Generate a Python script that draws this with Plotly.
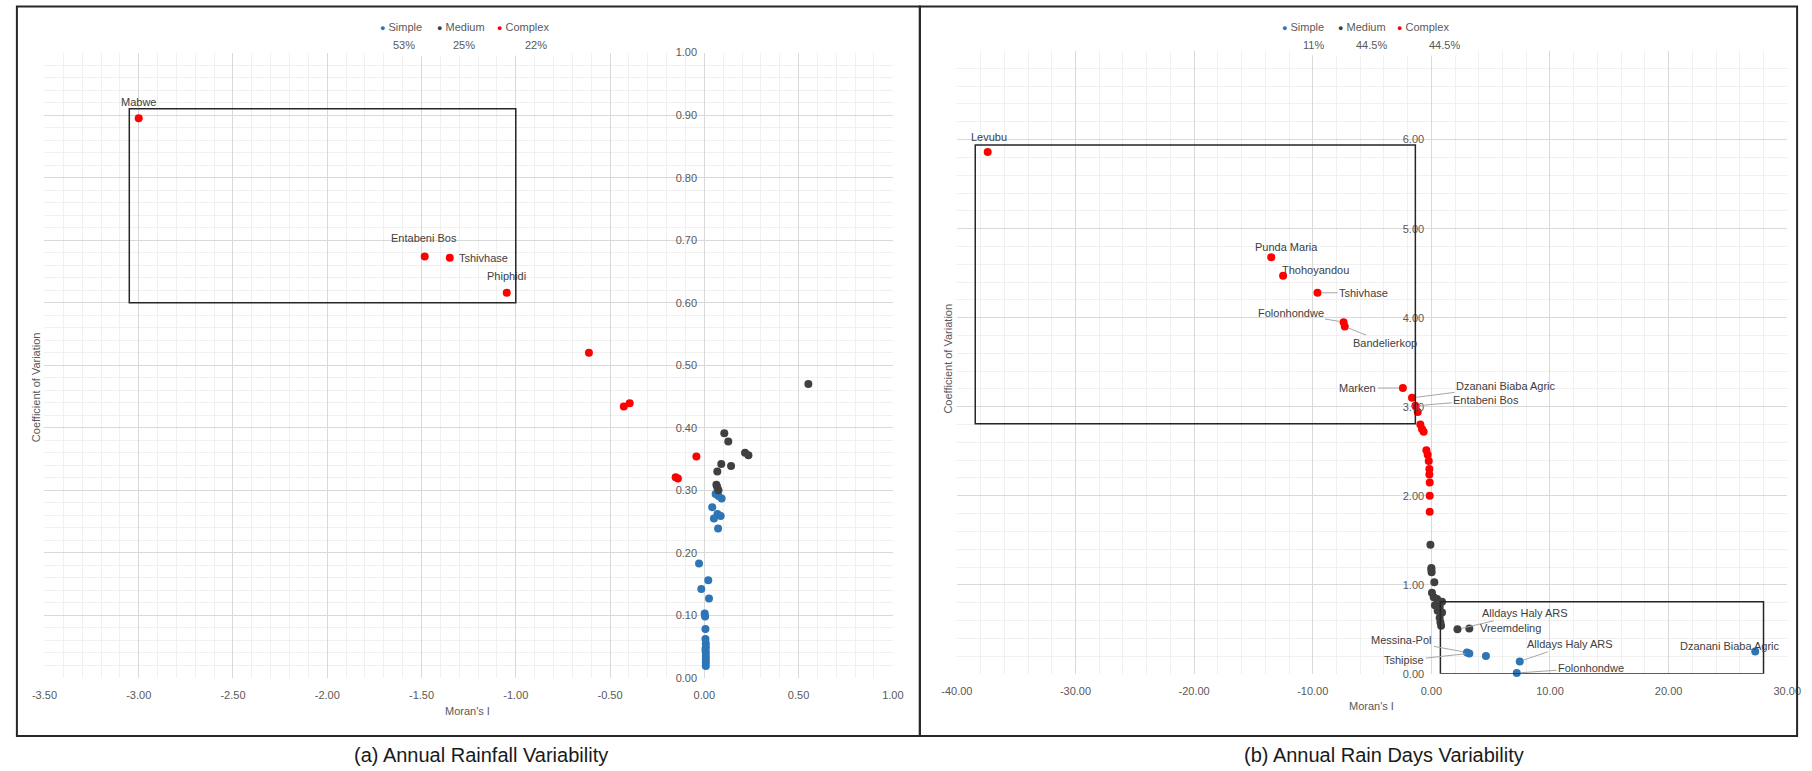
import plotly.graph_objects as go

# ---------------- data: (a) Annual Rainfall Variability ----------------
a_simple_x = [0.060, 0.092, 0.075, 0.042, 0.051, 0.087, 0.070, 0.073, -0.028, 0.021, -0.016, 0.025,
              0.002, 0.004, 0.006, 0.006, 0.008, 0.008, 0.008, 0.008, 0.008, 0.008, 0.006, 0.008]
a_simple_y = [0.294, 0.287, 0.291, 0.273, 0.255, 0.259, 0.262, 0.239, 0.183, 0.156, 0.142, 0.127,
              0.103, 0.098, 0.078, 0.062, 0.049, 0.041, 0.035, 0.030, 0.025, 0.019, 0.045, 0.055]
a_medium_x = [0.552, 0.106, 0.127, 0.216, 0.234, 0.090, 0.142, 0.069, 0.064, 0.069, 0.075]
a_medium_y = [0.470, 0.391, 0.378, 0.360, 0.356, 0.342, 0.339, 0.330, 0.309, 0.305, 0.300]
a_complex_x = [-3.00, -1.483, -1.35, -1.048, -0.612, -0.427, -0.396, -0.042, -0.152, -0.140]
a_complex_y = [0.895, 0.674, 0.672, 0.616, 0.520, 0.434, 0.439, 0.354, 0.321, 0.319]
a_complex_names = ["Mabwe", "Entabeni Bos", "Tshivhase", "Phiphidi", "", "", "", "", "", ""]
a_pct = ["53%", "25%", "22%"]
a_xticks = [-3.5, -3.0, -2.5, -2.0, -1.5, -1.0, -0.5, 0.0, 0.5, 1.0]
a_xticklabels = ["-3.50", "-3.00", "-2.50", "-2.00", "-1.50", "-1.00", "-0.50", "0.00", "0.50", "1.00"]
a_yticks = [0.0, 0.1, 0.2, 0.3, 0.4, 0.5, 0.6, 0.7, 0.8, 0.9, 1.0]
a_yticklabels = ["0.00", "0.10", "0.20", "0.30", "0.40", "0.50", "0.60", "0.70", "0.80", "0.90", "1.00"]
a_box = [-3.05, -1.0, 0.60, 0.91]  # x0, x1, y0, y1 of highlighted region

# ---------------- data: (b) Annual Rain Days Variability ----------------
b_simple_x = [3.0, 3.2, 4.6, 7.45, 7.2, 27.3]
b_simple_y = [0.24, 0.23, 0.20, 0.14, 0.01, 0.25]
b_simple_names = ["Messina-Pol", "Tshipise", "", "Alldays Haly ARS", "Folonhondwe", "Dzanani Biaba Agric"]
b_medium_x = [-0.08, 0.00, 0.00, 0.02, 0.25, 0.05, 0.20, 0.48, 0.90, 0.30, 0.70, 0.53, 0.90, 0.70,
              0.76, 0.82, 2.2, 3.2]
b_medium_y = [1.45, 1.19, 1.17, 1.14, 1.03, 0.91, 0.86, 0.84, 0.81, 0.77, 0.75, 0.71, 0.69, 0.63,
              0.58, 0.54, 0.50, 0.51]
b_medium_names = [""] * 16 + ["Alldays Haly ARS", "Vreemdeling"]
b_complex_x = [-37.4, -13.5, -12.5, -9.6, -7.4, -7.3, -2.4, -1.63, -1.35, -1.15, -0.93, -0.79, -0.65,
               -0.42, -0.31, -0.22, -0.17, -0.17, -0.14, -0.14, -0.14]
b_complex_y = [5.86, 4.68, 4.47, 4.28, 3.95, 3.90, 3.21, 3.10, 3.01, 2.94, 2.80, 2.75, 2.72,
               2.51, 2.46, 2.39, 2.30, 2.24, 2.15, 2.00, 1.82]
b_complex_names = ["Levubu", "Punda Maria", "Thohoyandou", "Tshivhase", "Folonhondwe", "Bandelierkop",
                   "Marken", "Dzanani Biaba Agric", "Entabeni Bos"] + [""] * 12
b_pct = ["11%", "44.5%", "44.5%"]
b_xticks = [-40, -30, -20, -10, 0, 10, 20, 30]
b_xticklabels = ["-40.00", "-30.00", "-20.00", "-10.00", "0.00", "10.00", "20.00", "30.00"]
b_yticks = [0, 1, 2, 3, 4, 5, 6, 7]
b_yticklabels = ["0.00", "1.00", "2.00", "3.00", "4.00", "5.00", "6.00", ""]
b_boxes = [[-38.45, -1.35, 2.81, 5.94], [0.76, 28.0, 0.0, 0.81]]

categories = ["Simple", "Medium", "Complex"]

# ---------------- style ----------------
W, H = 1812, 771
C_SIMPLE, C_MEDIUM, C_COMPLEX = "#2E75B6", "#404040", "#FF0000"
COLORS = [C_SIMPLE, C_MEDIUM, C_COMPLEX]
GRID, MINOR = "#D9D9D9", "#F0F0F0"
TXT = "#595959"
FONT = "Liberation Sans, Arial, sans-serif"

# layout positions are given in target-picture pixels and mapped to paper fractions
SX, CX, SY, CY = 0.983, 915.0, 0.984, 340.0

def px(x):
    v = (CX + (x - CX) / SX) / W
    return min(max(v, 0.0005), 0.9995)

def py(y):
    v = 1 - (CY + (y - CY) / SY) / H
    return min(max(v, 0.0005), 0.9995)

A_XDOM = [px(44), px(892)]
A_YDOM = [py(677), py(52)]
B_XDOM = [px(956), px(1786)]
B_YDOM = [py(673), py(50)]
A_XR = [-3.5, 1.0]
B_XR = [-40, 30]

def zero_pos(dom, rng):
    return dom[0] + (0 - rng[0]) / (rng[1] - rng[0]) * (dom[1] - dom[0])

fig = go.Figure()

series = [
    ("x", "y", a_simple_x, a_simple_y, 0, a_pct),
    ("x", "y", a_medium_x, a_medium_y, 1, a_pct),
    ("x", "y", a_complex_x, a_complex_y, 2, a_pct),
    ("x2", "y2", b_simple_x, b_simple_y, 0, b_pct),
    ("x2", "y2", b_medium_x, b_medium_y, 1, b_pct),
    ("x2", "y2", b_complex_x, b_complex_y, 2, b_pct),
]
for xa, ya, xs, ys, k, pct in series:
    fig.add_trace(go.Scatter(
        x=xs, y=ys, mode="markers", xaxis=xa, yaxis=ya, showlegend=False,
        name=f"{categories[k]} ({pct[k]})",
        marker=dict(color=COLORS[k], size=8, line=dict(width=0)),
        cliponaxis=False,
    ))

# ---------------- point labels ----------------
# offsets: (arrow?, dx, dy) in pixels
a_offsets = {"Mabwe": (False, 0, 16), "Entabeni Bos": (False, -1, 18),
             "Tshivhase": (False, 34, 0), "Phiphidi": (False, 0, 17)}
b_offsets_c = {"Levubu": (False, 1, 15), "Punda Maria": (False, 15, 10),
               "Thohoyandou": (False, 32, 6), "Tshivhase": (True, 46, 0),
               "Folonhondwe": (True, -53, -9), "Bandelierkop": (True, 40, 16),
               "Marken": (True, -45, 0), "Dzanani Biaba Agric": (True, 94, -12),
               "Entabeni Bos": (True, 71, -6)}
b_offsets_m = {"Alldays Haly ARS": (True, 68, -16), "Vreemdeling": (False, 41, 0)}
b_offsets_s = {"Messina-Pol": (True, -65, -12), "Tshipise": (True, -65, 7),
               "Alldays Haly ARS": (True, 50, -17), "Folonhondwe": (True, 74, -5),
               "Dzanani Biaba Agric": (False, -25, 6)}

annotations = []

def add_labels(xs, ys, names, offs, xr, yr):
    for x, y, n in zip(xs, ys, names):
        if not n:
            continue
        arrow, dx, dy = offs[n]
        base = dict(x=x, y=y, xref=xr, yref=yr, text=n,
                    font=dict(family=FONT, size=11, color="#404040"))
        if arrow:
            base.update(showarrow=True, ax=dx, ay=dy, arrowhead=0, arrowwidth=1,
                        arrowcolor="#A6A6A6", standoff=4)
        else:
            base.update(showarrow=False, xshift=dx, yshift=dy)
        annotations.append(base)

add_labels(a_complex_x, a_complex_y, a_complex_names, a_offsets, "x", "y")
add_labels(b_complex_x, b_complex_y, b_complex_names, b_offsets_c, "x2", "y2")
add_labels(b_medium_x, b_medium_y, b_medium_names, b_offsets_m, "x2", "y2")
add_labels(b_simple_x, b_simple_y, b_simple_names, b_offsets_s, "x2", "y2")

# axis titles and captions
for txt, x, y, ang, size, col in [
    ("Coefficient of Variation", 35, 386, -90, 11, TXT),
    ("Coefficient of Variation", 947, 358, -90, 11, TXT),
    ("Moran's I", 467, 710, 0, 11, TXT),
    ("Moran's I", 1370, 705, 0, 11, TXT),
    ("(a) Annual Rainfall Variability", 480, 754, 0, 20, "#1A1A1A"),
    ("(b) Annual Rain Days Variability", 1383, 754, 0, 20, "#1A1A1A"),
]:
    annotations.append(dict(text=txt, x=px(x), y=py(y), xref="paper", yref="paper",
                            showarrow=False, textangle=ang, xanchor="center", yanchor="middle",
                            font=dict(family=FONT, size=size, color=col)))

shapes = []

# ---------------- legends (symbol + name row, percentage row) ----------------
legend_layout = [
    ((384, 562), [380, 437, 497], [403, 463, 535], a_pct),
    ((1290, 1476), [1282, 1338, 1397], [1312, 1370, 1443], b_pct),
]
for (bx0, bx1), sym_x, pct_x, pcts in legend_layout:
    shapes.append(dict(type="rect", xref="paper", yref="paper", x0=px(bx0), x1=px(bx1),
                       y0=py(55), y1=py(16), fillcolor="white", line=dict(width=0),
                       layer="above"))
    for k in range(3):
        annotations.append(dict(
            text=f"<span style='color:{COLORS[k]};font-size:9px'>\u25cf</span> {categories[k]}",
            x=px(sym_x[k] - 3), y=py(26), xref="paper", yref="paper", showarrow=False,
            xanchor="left", yanchor="middle", font=dict(family=FONT, size=11, color=TXT)))
        annotations.append(dict(
            text=pcts[k], x=px(pct_x[k]), y=py(44), xref="paper", yref="paper",
            showarrow=False, xanchor="center", yanchor="middle",
            font=dict(family=FONT, size=11, color=TXT)))

x0, x1, y0, y1 = a_box
shapes.append(dict(type="rect", xref="x", yref="y", x0=x0, x1=x1, y0=y0, y1=y1,
                   line=dict(color="#262626", width=1.5)))
for x0, x1, y0, y1 in b_boxes:
    shapes.append(dict(type="rect", xref="x2", yref="y2", x0=x0, x1=x1, y0=y0, y1=y1,
                       line=dict(color="#262626", width=1.5)))
# panel frames
for fx0, fx1 in [(10, 919), (919, 1810)]:
    shapes.append(dict(type="rect", xref="paper", yref="paper", x0=px(fx0), x1=px(fx1),
                       y0=py(735), y1=py(6), line=dict(color="#262626", width=2)))

tickfont = dict(family=FONT, size=11, color=TXT)

def xaxis(dom, rng, tv, tt, anchor, minor_dt):
    return dict(domain=dom, range=rng, anchor=anchor, tickmode="array", tickvals=tv, ticktext=tt,
                showgrid=True, gridcolor=GRID, gridwidth=1, zeroline=False, showline=False,
                ticks="outside", ticklen=7, tickcolor="rgba(0,0,0,0)", tickfont=tickfont,
                minor=dict(dtick=minor_dt, tick0=rng[0], showgrid=True, gridcolor=MINOR, ticks=""),
                fixedrange=True)

def yaxis(dom, rng, tv, tt, pos, minor_dt):
    return dict(domain=dom, range=rng, anchor="free", position=pos, tickmode="array", tickvals=tv,
                ticktext=tt, showgrid=True, gridcolor=GRID, gridwidth=1, zeroline=False,
                showline=False, ticks="outside", ticklen=5, tickcolor="rgba(0,0,0,0)",
                tickfont=tickfont,
                minor=dict(dtick=minor_dt, tick0=0, showgrid=True, gridcolor=MINOR, ticks=""),
                fixedrange=True)

fig.update_layout(
    width=W, height=H, margin=dict(l=0, r=0, t=0, b=0),
    paper_bgcolor="white", plot_bgcolor="white",
    xaxis=xaxis(A_XDOM, A_XR, a_xticks, a_xticklabels, "y", 0.1),
    yaxis=yaxis(A_YDOM, [0, 1.0], a_yticks, a_yticklabels, zero_pos(A_XDOM, A_XR), 0.02),
    xaxis2=xaxis(B_XDOM, B_XR, b_xticks, b_xticklabels, "y2", 2),
    yaxis2=yaxis(B_YDOM, [0, 7], b_yticks, b_yticklabels, zero_pos(B_XDOM, B_XR), 0.2),
    annotations=annotations, shapes=shapes, showlegend=False,
    font=dict(family=FONT),
)

fig.write_html(
    "out.html",
    config={"displayModeBar": False},
    post_script=("document.body.style.margin='0px';document.body.style.overflow='hidden';"),
)
